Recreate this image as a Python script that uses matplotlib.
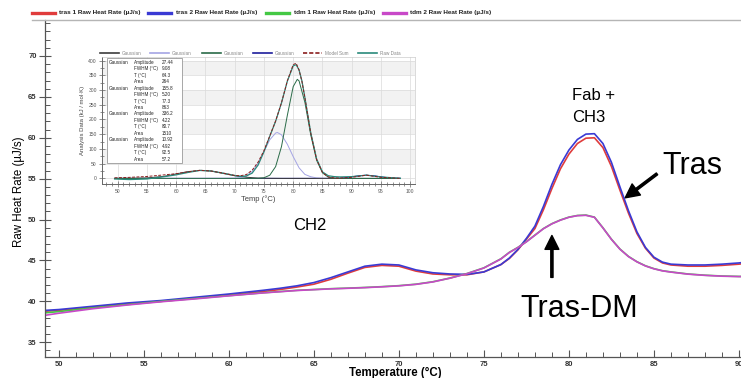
#!/usr/bin/env python3
"""
DSC thermogram of tras vs tdm with Gaussian deconvolution inset
"""

import matplotlib
matplotlib.use('Agg')
import matplotlib.pyplot as plt
from matplotlib.lines import Line2D
from matplotlib.patches import Rectangle
from matplotlib.ticker import MultipleLocator

plt.rcParams['font.family'] = ['Liberation Sans', 'DejaVu Sans']

# ---- main thermogram data ----
temp = [49.2, 50, 52, 54, 56, 58, 60, 62, 63, 64, 65, 66, 67, 68, 69, 70, 71, 72, 73, 74,
        75, 76, 76.5, 77, 77.5, 78, 78.5, 79, 79.5, 80, 80.5, 81, 81.5, 82, 82.5, 83,
        83.5, 84, 84.5, 85, 85.5, 86, 87, 88, 89, 90, 90.2]
tras1 = [38.8, 38.9, 39.3, 39.7, 40.0, 40.4, 40.8, 41.2, 41.45, 41.75, 42.1, 42.7, 43.45,
         44.15, 44.4, 44.3, 43.7, 43.35, 43.25, 43.25, 43.6, 44.5, 45.25, 46.3, 47.6, 48.9,
         51.2, 53.8, 56.2, 58.0, 59.3, 59.95, 60.0, 58.8, 56.5, 53.6, 50.8, 48.3, 46.5,
         45.3, 44.7, 44.45, 44.3, 44.3, 44.4, 44.55, 44.6]
tras2 = [38.9, 39.0, 39.4, 39.8, 40.1, 40.5, 40.9, 41.35, 41.6, 41.9, 42.3, 42.9, 43.6,
         44.3, 44.55, 44.45, 43.85, 43.5, 43.35, 43.3, 43.6, 44.5, 45.3, 46.35, 47.7, 49.2,
         51.6, 54.3, 56.7, 58.5, 59.8, 60.45, 60.5, 59.3, 57.0, 54.0, 51.1, 48.5, 46.6,
         45.4, 44.8, 44.55, 44.45, 44.45, 44.55, 44.7, 44.75]
tdm1 = [38.6, 38.75, 39.2, 39.6, 40.0, 40.35, 40.7, 41.05, 41.2, 41.35, 41.45, 41.55, 41.62,
        41.7, 41.8, 41.92, 42.1, 42.4, 42.85, 43.4, 44.1, 45.2, 46.0, 46.6, 47.3, 48.1,
        48.9, 49.5, 49.95, 50.3, 50.5, 50.55, 50.3, 49.0, 47.6, 46.4, 45.5, 44.85, 44.35,
        44.0, 43.75, 43.6, 43.35, 43.2, 43.1, 43.05, 43.05]
tdm2 = [38.3, 38.55, 39.1, 39.55, 39.95, 40.3, 40.68, 41.03, 41.18, 41.33, 41.43, 41.53, 41.6,
        41.68, 41.78, 41.9, 42.08, 42.38, 42.83, 43.38, 44.08, 45.18, 45.98, 46.58, 47.28,
        48.08, 48.88, 49.48, 49.93, 50.28, 50.48, 50.52, 50.28, 48.98, 47.58, 46.38, 45.48,
        44.83, 44.33, 43.98, 43.73, 43.58, 43.33, 43.18, 43.08, 43.03, 43.03]
series_labels = ['tras 1 Raw Heat Rate (µJ/s)', 'tras 2 Raw Heat Rate (µJ/s)',
                 'tdm 1 Raw Heat Rate (µJ/s)', 'tdm 2 Raw Heat Rate (µJ/s)']

# ---- inset (deconvolution) data ----
fit_T = [49.5, 52, 55, 58, 60, 62, 64, 66, 68, 70, 71, 72, 73, 74, 75, 76, 77, 78, 79, 80,
         80.5, 81, 81.5, 82, 83, 84, 85, 86, 87, 88, 90, 92.5, 95, 98.3]
raw_data = [-2, -4, -2, 6, 12, 20, 27, 25, 18, 10, 7, 8, 18, 45, 90, 143, 194, 256, 330, 382,
            386, 368, 330, 274, 155, 66, 22, 9, 6, 5, 6, 11, 5, 0]
model_sum = [2, 3.5, 6.5, 12, 16, 22, 27.4, 25, 18, 10, 9, 13, 28, 55, 94, 144, 195, 257, 331,
             386, 391, 368, 328, 273, 153, 64, 20, 5, 1.5, 1, 3.5, 11, 3.5, 0]
g1_T = [49.5, 52, 55, 58, 60, 62, 64.3, 66, 68, 70, 72, 74, 76, 78, 98.3]
g1 = [0, 0.2, 1.5, 7, 15, 23, 27.4, 25, 17, 9, 4, 1, 0.3, 0, 0]
g2_T = [49.5, 68, 70, 71, 72, 73, 74, 75, 76, 77, 77.3, 78, 79, 80, 81, 82, 83, 84, 85, 86, 98.3]
g2 = [0, 0, 0.7, 2.7, 8.7, 23.4, 51, 90.5, 131, 154, 155.8, 148, 116, 74, 36, 13.5, 5.6, 1.6,
      0.3, 0, 0]
g3_T = [49.5, 73, 74, 75, 76, 77, 78, 79, 80, 80.7, 81, 82, 83, 84, 85, 86, 87, 88, 98.3]
g3 = [0, 0, 0.3, 2.1, 10.8, 40, 108, 214, 311.6, 336.2, 331, 258, 147.5, 61.7, 18.9, 4.2, 0.7,
      0, 0]
g4_T = [49.5, 87, 88, 89, 90, 91, 92.5, 94, 95, 96, 97, 98.3]
g4 = [0, 0.3, 1.1, 2.7, 5.3, 8.4, 10.9, 8.4, 5.3, 2.7, 1.1, 0.4]
inset_labels = ['Gaussian', 'Gaussian', 'Gaussian', 'Gaussian', 'Model Sum', 'Raw Data']
fit_amp = ['27.44', '155.8', '336.2', '10.92']
fit_fwhm = ['9.08', '5.20', '4.22', '4.92']
fit_tm = ['64.3', '77.3', '80.7', '92.5']
fit_area = ['264', '863', '1510', '57.2']

W, H = 741, 378


def fx(px):
    return px / W


def fy(py):
    return 1 - py / H


def main():
    fig = plt.figure(figsize=(W / 100, H / 100), dpi=100)
    fig.patch.set_facecolor('white')

    # ---- main axes ----
    ax = fig.add_axes([fx(45), fy(357), fx(741) - fx(45), fy(20) - fy(357)])
    colors = ['#e03c3c', '#3a3ad4', '#44c844', '#c848c8']
    for ys, c in zip([tras1, tras2, tdm1, tdm2], colors):
        ax.plot(temp, ys, color=c, lw=1.2, solid_joinstyle='round')

    ax.set_xlim(49.19, 90.12)
    ax.set_ylim(33.2, 74.4)
    ax.xaxis.set_major_locator(MultipleLocator(5))
    ax.xaxis.set_minor_locator(MultipleLocator(1))
    ax.yaxis.set_major_locator(MultipleLocator(5))
    ax.yaxis.set_minor_locator(MultipleLocator(1))
    for s in ['top', 'right']:
        ax.spines[s].set_visible(False)
    for s in ['left', 'bottom']:
        ax.spines[s].set_color('#555555')
        ax.spines[s].set_linewidth(0.9)
    ax.tick_params(axis='y', which='major', direction='inout', length=8, width=0.8,
                   color='#555555', labelsize=5.5, labelcolor='#333333', pad=2)
    ax.tick_params(axis='x', which='major', direction='in', length=5, width=0.8,
                   color='#555555', labelsize=5.5, labelcolor='#333333', pad=3)
    ax.tick_params(which='minor', direction='in', length=3.5, width=0.7, color='#555555')
    for lab in ax.get_xticklabels() + ax.get_yticklabels():
        lab.set_fontweight('bold')

    ax.set_xlabel('Temperature (°C)', fontsize=8.3, fontweight='bold')
    ax.xaxis.set_label_coords(0.503, -0.03)
    ax.set_ylabel('Raw Heat Rate (µJ/s)', fontsize=8.3)
    ax.yaxis.set_label_coords(-0.029, 0.49)

    # annotations
    ax.text(63.78, 48.67, 'CH2', fontsize=12, va='baseline')
    ax.text(80.2, 64.63, 'Fab +', fontsize=12, va='baseline')
    ax.text(80.2, 61.89, 'CH3', fontsize=12, va='baseline')
    ax.text(85.47, 55.6, 'Tras', fontsize=22, va='baseline')
    ax.text(77.13, 38.15, 'Tras-DM', fontsize=22, va='baseline')
    ax.annotate('', xy=(83.31, 52.66), xytext=(85.18, 55.59),
                arrowprops=dict(facecolor='black', edgecolor='black', width=1.6,
                                headwidth=10, headlength=10, shrink=0))
    ax.annotate('', xy=(79.0, 48.06), xytext=(79.0, 42.93),
                arrowprops=dict(facecolor='black', edgecolor='black', width=1.6,
                                headwidth=10, headlength=10, shrink=0))

    # top legend and frame line
    line_x = [32, 148, 266, 383]
    for x0, lab, c in zip(line_x, series_labels, colors):
        fig.add_artist(Line2D([fx(x0), fx(x0 + 23)], [fy(12.7)] * 2, color=c, lw=2.4,
                              transform=fig.transFigure))
        fig.text(fx(x0 + 27.5), fy(12.7), lab, fontsize=4.6, fontweight='bold',
                 va='center', color='#222222')
    fig.add_artist(Line2D([fx(32), 1], [fy(19.5)] * 2, color='#b5b5b5', lw=1.0,
                          transform=fig.transFigure))

    # ---- inset ----
    ai = fig.add_axes([fx(101.7), fy(184), fx(415) - fx(101.7), fy(57) - fy(184)])
    ai.set_xlim(47.3, 100.8)
    ai.set_ylim(-19, 412)
    for lo in [50, 150, 250, 350]:
        ai.axhspan(lo, lo + 50, color='#f2f2f2', lw=0, zorder=0)
    ai.grid(True, color='#dadada', lw=0.5)
    ai.set_axisbelow(True)
    ai.xaxis.set_major_locator(MultipleLocator(5))
    ai.xaxis.set_minor_locator(MultipleLocator(1))
    ai.yaxis.set_major_locator(MultipleLocator(50))
    ai.yaxis.set_minor_locator(MultipleLocator(25))
    ai.tick_params(which='both', direction='inout', color='#666666', width=0.5,
                   labelsize=3.6, labelcolor='#555555', pad=1.5)
    ai.tick_params(which='major', length=4)
    ai.tick_params(which='minor', length=2.5)
    for s in ['top', 'right']:
        ai.spines[s].set_color('#cccccc')
        ai.spines[s].set_linewidth(0.5)
    for s in ['left', 'bottom']:
        ai.spines[s].set_color('#666666')
        ai.spines[s].set_linewidth(0.7)
    ai.set_xlabel('Temp (°C)', fontsize=5.5, color='#444444', labelpad=1)
    ai.set_ylabel('Analysis Data (kJ / mol·K)', fontsize=4.3, color='#444444', labelpad=2)

    inset_colors = ['#3c3c3c', '#a4a4e4', '#2a6b48', '#1e1e9c', '#8b1f1f', '#2a8a7c']
    ai.plot(g4_T, g4, color=inset_colors[3], lw=0.7)
    ai.plot(g2_T, g2, color=inset_colors[1], lw=0.7)
    ai.plot(g1_T, g1, color=inset_colors[0], lw=0.7)
    ai.plot(g3_T, g3, color=inset_colors[2], lw=0.7)
    ai.plot(fit_T, raw_data, color=inset_colors[5], lw=0.9)
    ai.plot(fit_T, model_sum, color=inset_colors[4], lw=0.7, ls=(0, (3, 1.5)))

    # fit results table
    ai.add_patch(Rectangle((0.016, 0.165), 0.239, 0.825, transform=ai.transAxes,
                           facecolor='white', edgecolor='#999999', lw=0.6, zorder=5))
    row = 0
    for amp, fw, tm, area in zip(fit_amp, fit_fwhm, fit_tm, fit_area):
        cells = [('Gaussian', 'Amplitude', amp), ('', 'FWHM (°C)', fw),
                 ('', 'T (°C)', tm), ('', 'Area', area)]
        for c1, c2, c3 in cells:
            yy = 0.958 - row * 0.0508
            for xx, t in zip([0.024, 0.102, 0.192], [c1, c2, c3]):
                ai.text(xx, yy, t, transform=ai.transAxes, fontsize=3.3, va='center',
                        color='#222222', zorder=6)
            row += 1

    # inset legend
    leg_x = [100, 150, 202, 253, 303, 358]
    for x0, lab, c in zip(leg_x, inset_labels, inset_colors):
        ls = (0, (2.5, 1.2)) if lab == 'Model Sum' else '-'
        fig.add_artist(Line2D([fx(x0), fx(x0 + 19)], [fy(53.3)] * 2, color=c, lw=1.2,
                              ls=ls, transform=fig.transFigure))
        fig.text(fx(x0 + 22), fy(53.3), lab, fontsize=3.3, va='center', color='#888888')

    fig.savefig('out.png', dpi=100)


if __name__ == "__main__":
    main()
